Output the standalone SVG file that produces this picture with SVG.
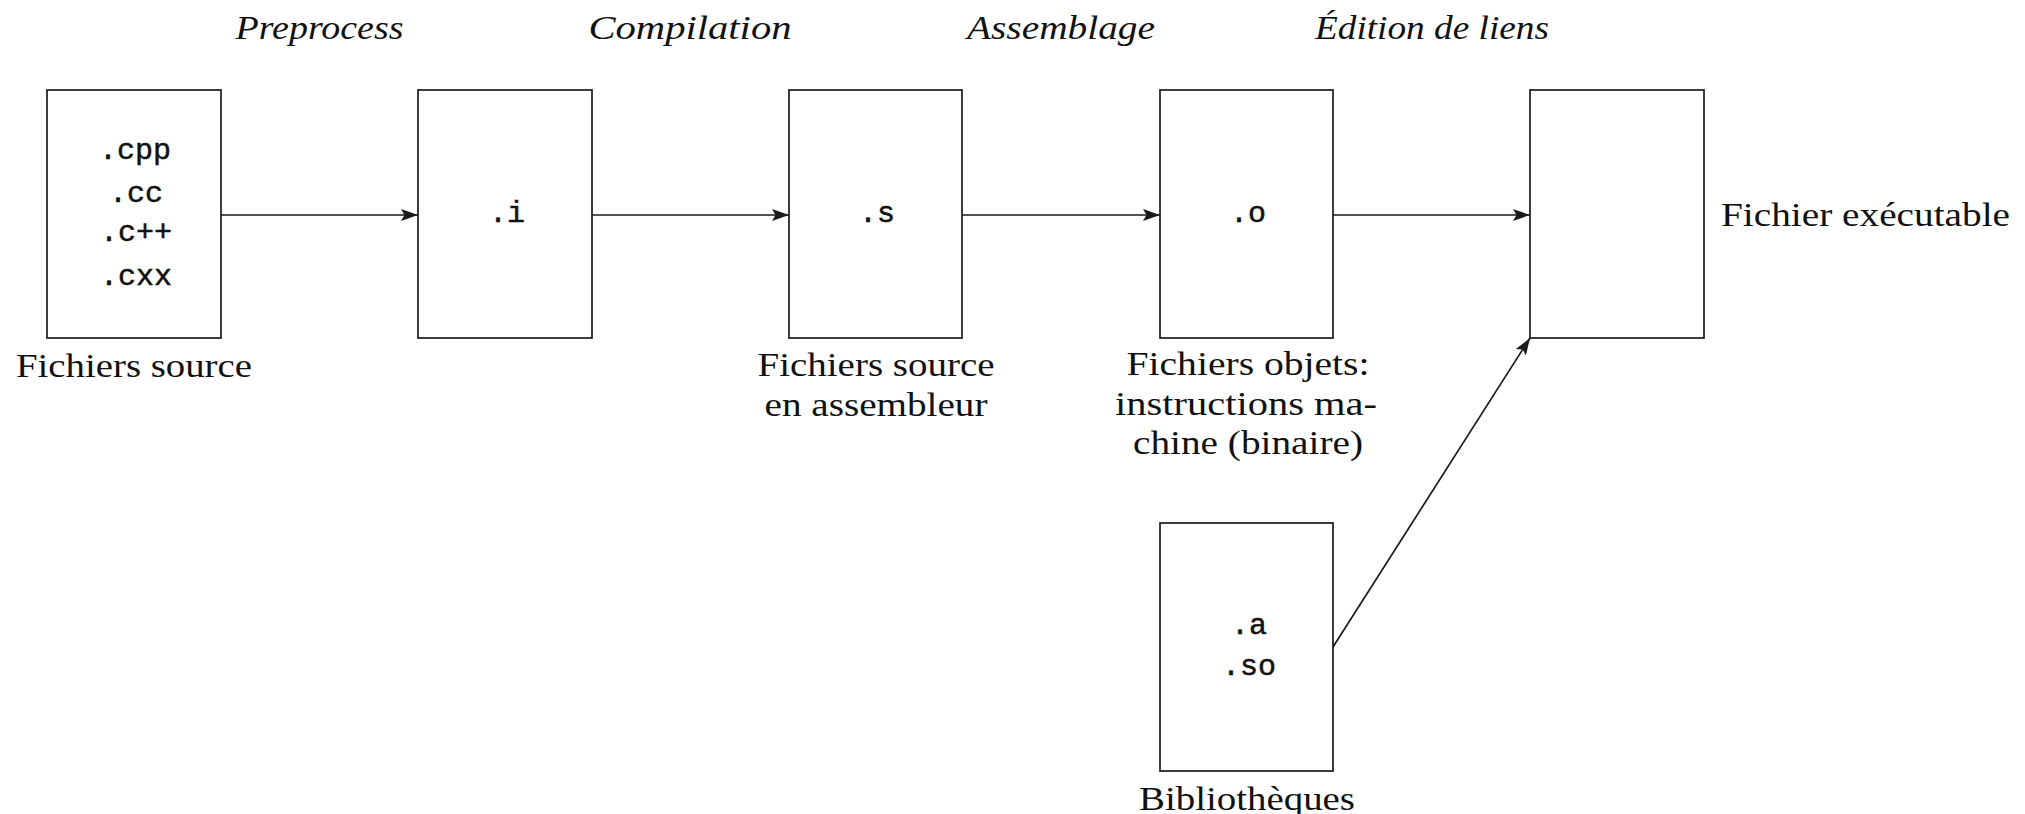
<svg xmlns="http://www.w3.org/2000/svg" width="2025" height="814" viewBox="0 0 2025 814">
<defs>
<style>
.box{fill:#fff;stroke:#1a1a1a;stroke-width:1.7}
.conn{fill:none;stroke:#1a1a1a;stroke-width:1.7}
.rm{font-family:"Liberation Serif","Times New Roman",serif;font-size:34px;fill:#111;text-anchor:middle}
.it{font-family:"Liberation Serif","Times New Roman",serif;font-style:italic;font-size:34px;fill:#111;text-anchor:middle}
.tt{font-family:"Liberation Mono","DejaVu Sans Mono",monospace;font-size:30px;fill:#111;stroke:#111;stroke-width:0.5;text-anchor:middle}
</style>
<marker id="arr" markerUnits="userSpaceOnUse" markerWidth="18" markerHeight="14" refX="17" refY="7" orient="auto">
<path d="M0,1 L17,7 L0,13 L3.5,7 z" fill="#1a1a1a"/>
</marker>
</defs>
<rect width="2025" height="814" fill="#fff"/>

<g id="labels-steps">
<text class="it" x="319.5" y="39" textLength="168" lengthAdjust="spacingAndGlyphs">Preprocess</text>
<text class="it" x="690" y="39" textLength="203" lengthAdjust="spacingAndGlyphs">Compilation</text>
<text class="it" x="1061" y="39" textLength="188" lengthAdjust="spacingAndGlyphs">Assemblage</text>
<text class="it" x="1432" y="39" textLength="234" lengthAdjust="spacingAndGlyphs">Édition de liens</text>
</g>

<g id="connectors">
<line class="conn" x1="221" y1="215" x2="418" y2="215" marker-end="url(#arr)"/>
<line class="conn" x1="592" y1="215" x2="789" y2="215" marker-end="url(#arr)"/>
<line class="conn" x1="962" y1="215" x2="1160" y2="215" marker-end="url(#arr)"/>
<line class="conn" x1="1333" y1="215" x2="1530" y2="215" marker-end="url(#arr)"/>
<line class="conn" x1="1333" y1="647" x2="1530" y2="338" marker-end="url(#arr)"/>
</g>

<g id="node-source">
<rect class="box" x="47" y="90" width="174" height="248"/>
<text class="tt" x="135" y="159">.cpp</text>
<text class="tt" x="136" y="202">.cc</text>
<text class="tt" x="136" y="241">.c++</text>
<text class="tt" x="136" y="285">.cxx</text>
<text class="rm" x="134" y="377" textLength="236" lengthAdjust="spacingAndGlyphs">Fichiers source</text>
</g>

<g id="node-i">
<rect class="box" x="418" y="90" width="174" height="248"/>
<text class="tt" x="507" y="222">.i</text>
</g>

<g id="node-s">
<rect class="box" x="789" y="90" width="173" height="248"/>
<text class="tt" x="877" y="222">.s</text>
<text class="rm" x="876" y="376" textLength="237" lengthAdjust="spacingAndGlyphs">Fichiers source</text>
<text class="rm" x="876" y="416" textLength="223" lengthAdjust="spacingAndGlyphs">en assembleur</text>
</g>

<g id="node-o">
<rect class="box" x="1160" y="90" width="173" height="248"/>
<text class="tt" x="1248" y="222">.o</text>
<text class="rm" x="1248" y="375" textLength="243" lengthAdjust="spacingAndGlyphs">Fichiers objets:</text>
<text class="rm" x="1246" y="415" textLength="262" lengthAdjust="spacingAndGlyphs">instructions ma-</text>
<text class="rm" x="1248" y="454" textLength="230" lengthAdjust="spacingAndGlyphs">chine (binaire)</text>
</g>

<g id="node-exe">
<rect class="box" x="1530" y="90" width="174" height="248"/>
<text class="rm" x="1865.5" y="226" textLength="289" lengthAdjust="spacingAndGlyphs">Fichier exécutable</text>
</g>

<g id="node-lib">
<rect class="box" x="1160" y="523" width="173" height="248"/>
<text class="tt" x="1249" y="634">.a</text>
<text class="tt" x="1249" y="675">.so</text>
<text class="rm" x="1247" y="810" textLength="216" lengthAdjust="spacingAndGlyphs">Bibliothèques</text>
</g>
</svg>
